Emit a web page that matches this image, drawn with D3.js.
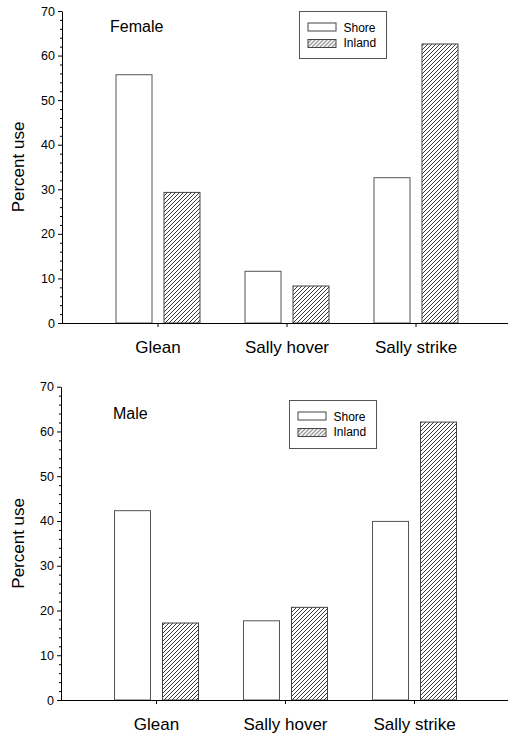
<!DOCTYPE html>
<html>
<head>
<meta charset="utf-8">
<script src="https://cdn.jsdelivr.net/npm/d3@7"></script>
<style>
  body { margin: 0; background: #fff; }
  svg { display: block; font-family: "Liberation Sans", Arial, sans-serif; }
</style>
</head>
<body>
<svg id="chart" width="508" height="733"></svg>
<script>
// data (percent use)
const categories = ["Glean", "Sally hover", "Sally strike"];
const series = ["Shore", "Inland"];
const femaleShore = [55.7, 11.6, 32.6];
const femaleInland = [29.3, 8.3, 62.6];
const maleShore = [42.3, 17.7, 39.9];
const maleInland = [17.2, 20.7, 62.1];
const majorTicks = [0, 10, 20, 30, 40, 50, 60, 70];
const minorTicks = [2, 4, 6, 8, 12, 14, 16, 18, 22, 24, 26, 28, 32, 34, 36, 38,
                    42, 44, 46, 48, 52, 54, 56, 58, 62, 64, 66, 68];

const svg = d3.select("#chart");

// diagonal hatch for "Inland"
svg.append("defs").append("pattern")
    .attr("id", "hatch")
    .attr("patternUnits", "userSpaceOnUse")
    .attr("width", 4).attr("height", 4)
  .append("path")
    .attr("d", "M-1,1 l2,-2 M0,4 l4,-4 M3,5 l2,-2")
    .attr("stroke", "#222")
    .attr("stroke-width", 0.9);

const panels = [
  {title: "Female", shore: femaleShore, inland: femaleInland,
   axisX: 62, y0: 323, y70: 11, xStart: 93.5, shift: 0,
   titleX: 110, titleY: 31.5, catY: 353,
   legend: {x: 299.5, y: 11.5, w: 87, h: 47}},
  {title: "Male", shore: maleShore, inland: maleInland,
   axisX: 61, y0: 700, y70: 386.7, xStart: 92, shift: 0,
   titleX: 113, titleY: 419, catY: 730,
   legend: {x: 289.5, y: 400.5, w: 87, h: 48}}
];

const barW = 36, barOff = 24;

panels.forEach(p => {
  const g = svg.append("g");
  const y = d3.scaleLinear().domain([0, 70]).range([p.y0, p.y70]);
  const x = d3.scaleBand().domain(categories).range([p.xStart, p.xStart + 387]);
  const cx = c => x(c) + x.bandwidth() / 2;

  // bars
  const rows = categories.map((c, i) => ({c, shore: p.shore[i], inland: p.inland[i]}));
  g.selectAll(".shore").data(rows).join("rect")
      .attr("class", "shore")
      .attr("x", d => cx(d.c) - barOff - barW / 2)
      .attr("y", d => y(d.shore))
      .attr("width", barW)
      .attr("height", d => y(0) - y(d.shore))
      .attr("fill", "#fff").attr("stroke", "#555").attr("stroke-width", 1);
  g.selectAll(".inland").data(rows).join("rect")
      .attr("class", "inland")
      .attr("x", d => cx(d.c) + barOff - barW / 2)
      .attr("y", d => y(d.inland))
      .attr("width", barW)
      .attr("height", d => y(0) - y(d.inland))
      .attr("fill", "url(#hatch)").attr("stroke", "#444").attr("stroke-width", 1);

  // y axis, major + minor ticks
  const yAx = g.append("g").attr("transform", `translate(${p.axisX},0)`)
      .call(d3.axisLeft(y).tickValues(majorTicks).tickSize(4).tickSizeOuter(0).tickPadding(3));
  yAx.selectAll("text").attr("font-size", 12.5).attr("fill", "#000")
      .attr("font-family", "Liberation Sans, Arial, sans-serif");
  g.append("g").attr("transform", `translate(${p.axisX},0)`)
      .call(d3.axisLeft(y).tickValues(minorTicks).tickSize(2).tickFormat(""))
      .select(".domain").remove();

  // x axis
  const xAx = g.append("g").attr("transform", `translate(0,${p.y0})`)
      .call(d3.axisBottom(x).tickSize(4).tickSizeOuter(0).tickFormat(""));
  xAx.select(".domain").remove();
  g.append("line")
      .attr("x1", p.axisX).attr("x2", 508)
      .attr("y1", p.y0 + 0.5).attr("y2", p.y0 + 0.5)
      .attr("stroke", "#000");

  g.selectAll(".cat").data(categories).join("text")
      .attr("class", "cat")
      .attr("x", d => cx(d))
      .attr("y", p.catY)
      .attr("text-anchor", "middle")
      .attr("font-size", 17)
      .text(d => d);

  // y label
  g.append("text")
      .attr("transform", `translate(24,${(p.y0 + p.y70) / 2}) rotate(-90)`)
      .attr("text-anchor", "middle")
      .attr("font-size", 17)
      .text("Percent use");

  // panel title
  g.append("text")
      .attr("x", p.titleX).attr("y", p.titleY)
      .attr("font-size", 16)
      .text(p.title);

  // legend
  const L = p.legend;
  const lg = g.append("g").attr("transform", `translate(${L.x},${L.y})`);
  lg.append("rect").attr("width", L.w).attr("height", L.h)
      .attr("fill", "#fff").attr("stroke", "#555");
  lg.selectAll(".sw").data(series).join("rect")
      .attr("class", "sw")
      .attr("x", 8.5).attr("y", (d, i) => 11.5 + i * 16.5)
      .attr("width", 28).attr("height", 8)
      .attr("fill", (d, i) => i ? "url(#hatch)" : "#fff")
      .attr("stroke", "#444");
  lg.selectAll(".lt").data(series).join("text")
      .attr("class", "lt")
      .attr("x", 44).attr("y", (d, i) => 20 + i * 15.5)
      .attr("font-size", 12)
      .text(d => d);
});
</script>
</body>
</html>
